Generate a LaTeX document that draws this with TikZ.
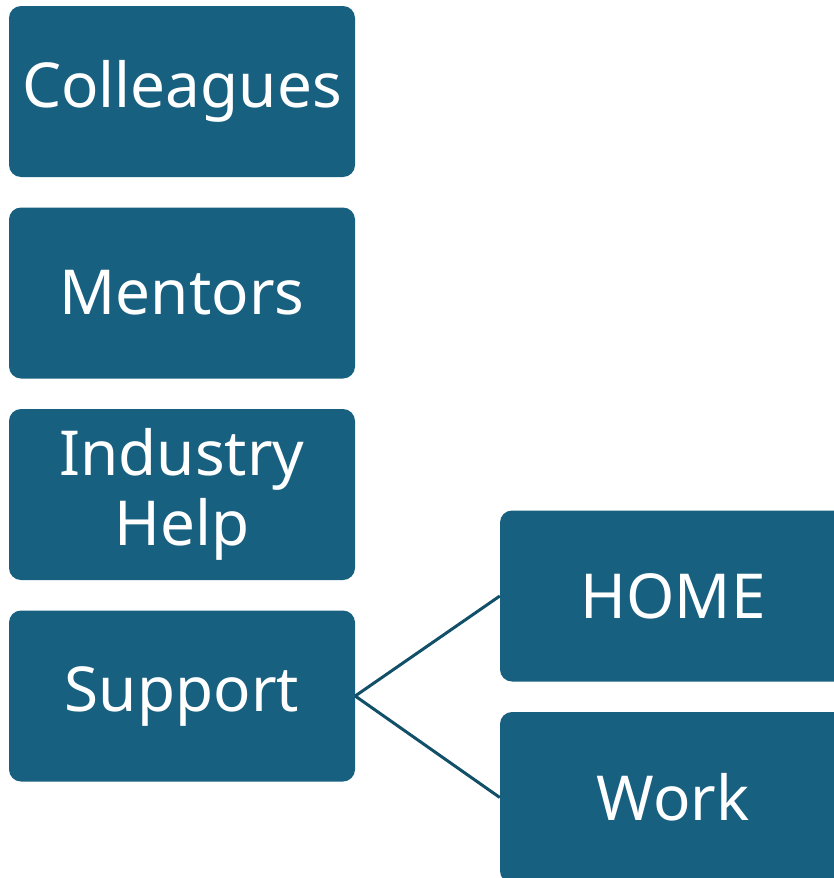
\documentclass[tikz,border=0pt]{standalone}
\usepackage{fontspec}
\setmainfont{Noto Sans}
\usetikzlibrary{positioning}
\definecolor{boxblue}{HTML}{18607F}
\definecolor{lineblue}{HTML}{124F69}
\begin{document}
\begin{tikzpicture}[x=1pt, y=1pt, node distance={201.5pt},
  main/.style = {fill=boxblue, rounded corners=12pt, minimum width=346pt, minimum height=171pt, inner sep=0pt, text=white, align=center, font=\fontsize{62}{70}\selectfont}]
\useasboundingbox (0,0) rectangle (834,-878);
\node[main] (1) at (182,-91.5) {Colleagues};
\node[main] (2) [below of=1] {Mentors};
\node[main] (3) [below of=2] {Industry\\Help};
\node[main] (4) [below of=3] {Support};
\node[main] (5) at (673,-596) {HOME};
\node[main] (6) [below of=5] {Work};

\draw[lineblue, line width=3pt] (4.east) -- (5.west);
\draw[lineblue, line width=3pt] (4.east) -- (6.west);
\end{tikzpicture}
\end{document}
